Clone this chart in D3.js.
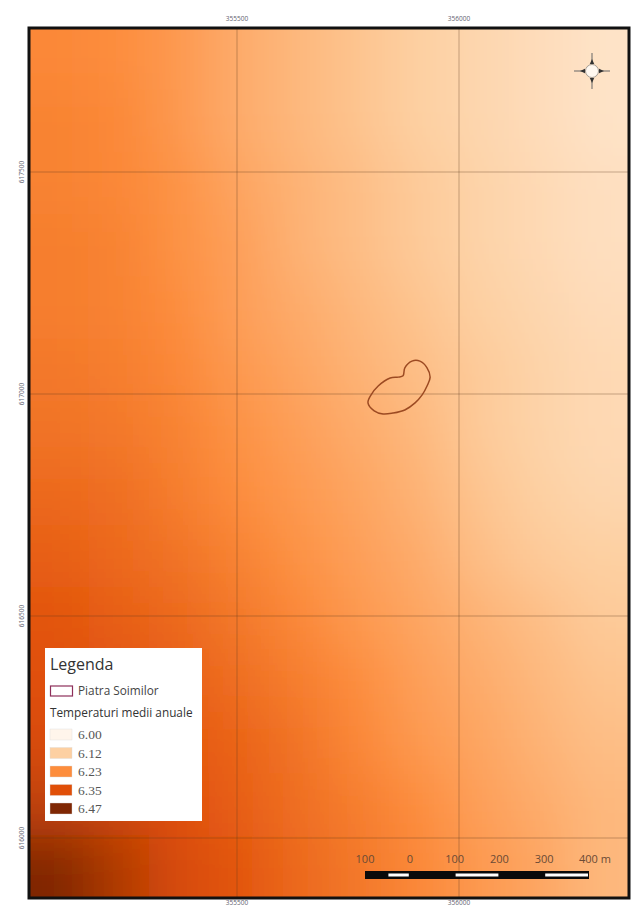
<!DOCTYPE html>
<html>
<head>
<meta charset="utf-8">
<script src="https://cdn.jsdelivr.net/npm/d3@7"></script>
<style>
  html, body { margin: 0; padding: 0; background: #fff; }
  svg { display: block; }
</style>
</head>
<body>
<div class="mapchart"></div>
<script>
// legend classes
const legendValues = [6.00, 6.12, 6.23, 6.35, 6.47];
const legendLabels = ["6.00", "6.12", "6.23", "6.35", "6.47"];
const legendColors = ["#fff5eb", "#fdd0a2", "#fd8d3c", "#e04f08", "#7f2704"];

// grid ticks of the map
const eastTicks = [355500, 356000];
const northTicks = [617500, 617000, 616500, 616000];
const scaleTicks = [-100, 0, 100, 200, 300, 400];
const scaleWhite = [[-50, 0], [100, 200], [300, 400]];

const row01 = [6.24, 6.23, 6.21, 6.18, 6.16, 6.14, 6.12, 6.10, 6.08, 6.06];
const row02 = [6.25, 6.24, 6.21, 6.18, 6.16, 6.14, 6.12, 6.10, 6.08, 6.06];
const row03 = [6.25, 6.24, 6.22, 6.19, 6.17, 6.15, 6.13, 6.11, 6.09, 6.07];
const row04 = [6.26, 6.25, 6.22, 6.20, 6.17, 6.15, 6.13, 6.11, 6.09, 6.07];
const row05 = [6.26, 6.25, 6.23, 6.20, 6.18, 6.16, 6.14, 6.12, 6.10, 6.08];
const row06 = [6.27, 6.26, 6.24, 6.21, 6.19, 6.17, 6.15, 6.13, 6.11, 6.09];
const row07 = [6.28, 6.27, 6.25, 6.22, 6.20, 6.18, 6.16, 6.13, 6.11, 6.09];
const row08 = [6.30, 6.29, 6.26, 6.23, 6.21, 6.19, 6.17, 6.14, 6.12, 6.10];
const row09 = [6.32, 6.30, 6.28, 6.25, 6.22, 6.20, 6.18, 6.15, 6.13, 6.12];
const row10 = [6.34, 6.32, 6.30, 6.27, 6.24, 6.21, 6.19, 6.17, 6.15, 6.13];
const row11 = [6.35, 6.34, 6.32, 6.29, 6.26, 6.23, 6.20, 6.18, 6.16, 6.14];
const row12 = [6.36, 6.35, 6.33, 6.31, 6.28, 6.24, 6.21, 6.19, 6.17, 6.15];
const row13 = [6.39, 6.37, 6.35, 6.32, 6.29, 6.26, 6.23, 6.20, 6.18, 6.16];
const row14 = [6.47, 6.41, 6.36, 6.34, 6.30, 6.27, 6.24, 6.21, 6.19, 6.16];
const rows = [row01, row02, row03, row04, row05, row06, row07, row08, row09, row10, row11, row12, row13, row14];

// Piatra Soimilor outline, map coordinates
const outlineE = [355874, 355878, 355894, 355912, 355928, 355935, 355928, 355917, 355901, 355878, 355851, 355829, 355809, 355795, 355802, 355818, 355845, 355863];
const outlineN = [617041, 617059, 617074, 617074, 617059, 617038, 617018, 616998, 616980, 616964, 616957, 616955, 616962, 616980, 616998, 617018, 617036, 617038];

const frame = {left: 29, top: 28, right: 629, bottom: 898};
const fontSans = "'Open Sans', sans-serif";
const edge = 120; // outer cells run on past the frame, the blur needs it

const svg = d3.select(".mapchart")
  .append("svg")
    .attr("width", 635)
    .attr("height", 906);

const defs = svg.append("defs");
defs.append("clipPath").attr("id", "frameclip")
  .append("rect")
    .attr("x", frame.left)
    .attr("y", frame.top)
    .attr("width", frame.right - frame.left)
    .attr("height", frame.bottom - frame.top);
defs.append("filter").attr("id", "smooth")
    .attr("filterUnits", "userSpaceOnUse")
    .attr("x", -200).attr("y", -200).attr("width", 1100).attr("height", 1300)
  .append("feGaussianBlur").attr("stdDeviation", 26);
defs.append("filter").attr("id", "soft")
  .append("feGaussianBlur").attr("stdDeviation", 0.6);

// map coordinates to page
const x = d3.scaleLinear().domain([355500, 356000]).range([237, 459]);
const y = d3.scaleLinear().domain([617000, 617500]).range([394, 172]);

const color = d3.scaleLinear().domain(legendValues).range(legendColors).clamp(true);

const col = d3.scaleBand().domain(d3.range(rows[0].length)).range([frame.left, frame.right]);
const row = d3.scaleBand().domain(d3.range(rows.length)).range([frame.top, frame.bottom]);
const lastCol = rows[0].length - 1;
const lastRow = rows.length - 1;

const raster = svg.append("g").attr("clip-path", "url(#frameclip)");
raster.append("g")
    .attr("filter", "url(#smooth)")
  .selectAll("g")
  .data(rows)
  .enter()
  .append("g")
    .attr("data-row", (d, i) => i)
  .selectAll("rect")
  .data((d, r) => d.map((v, c) => ({v: v, c: c, r: r})))
  .enter()
  .append("rect")
    .attr("x", d => col(d.c) - (d.c === 0 ? edge : 0))
    .attr("y", d => row(d.r) - (d.r === 0 ? edge : 0))
    .attr("width", d => col.bandwidth() + 1 + (d.c === 0 || d.c === lastCol ? edge : 0))
    .attr("height", d => row.bandwidth() + 1 + (d.r === 0 || d.r === lastRow ? edge : 0))
    .style("fill", d => color(d.v));

// grid lines
const grid = svg.append("g")
    .attr("clip-path", "url(#frameclip)")
    .attr("stroke", "#5a3a20")
    .attr("stroke-opacity", 0.45)
    .attr("stroke-width", 0.8);
grid.selectAll("line.e")
  .data(eastTicks)
  .enter()
  .append("line")
    .attr("class", "e")
    .attr("x1", d => x(d)).attr("x2", d => x(d))
    .attr("y1", frame.top).attr("y2", frame.bottom);
grid.selectAll("line.n")
  .data(northTicks)
  .enter()
  .append("line")
    .attr("class", "n")
    .attr("y1", d => y(d)).attr("y2", d => y(d))
    .attr("x1", frame.left).attr("x2", frame.right);

// outline of the site
const points = outlineE.map((e, i) => [x(e), y(outlineN[i])]);
svg.append("path")
    .attr("d", d3.line().curve(d3.curveCatmullRomClosed)(points))
    .attr("fill", "none")
    .attr("stroke", "#9c4a22")
    .attr("stroke-width", 1.5);

// frame
svg.append("rect")
    .attr("x", frame.left)
    .attr("y", frame.top)
    .attr("width", frame.right - frame.left)
    .attr("height", frame.bottom - frame.top)
    .attr("fill", "none")
    .attr("stroke", "#111")
    .attr("stroke-width", 3);

// coordinate labels
const coordStyle = sel => sel
    .attr("text-anchor", "middle")
    .attr("fill", "#5f6370")
    .style("font-family", fontSans)
    .style("font-size", "6.5px");
[21, 905].forEach(py => {
  svg.append("g").selectAll("text")
    .data(eastTicks)
    .enter()
    .append("text")
      .attr("x", d => x(d))
      .attr("y", py)
      .call(coordStyle)
      .text(d => d);
});
svg.append("g").selectAll("text")
  .data(northTicks)
  .enter()
  .append("text")
    .attr("transform", d => "translate(24," + y(d) + ") rotate(-90)")
    .call(coordStyle)
    .text(d => d);

// north arrow
const compass = svg.append("g")
    .attr("transform", "translate(592,71)")
    .attr("filter", "url(#soft)");
[0, 90, 180, 270].forEach(a => {
  const arm = compass.append("g").attr("transform", "rotate(" + a + ")");
  arm.append("line")
      .attr("y1", -8).attr("y2", -18)
      .attr("stroke", "#666").attr("stroke-width", 1);
  arm.append("path")
      .attr("d", "M-2.2,-7 L0,-12 L2.2,-7 Z")
      .attr("fill", "#333");
});
compass.append("circle")
    .attr("r", 6.5)
    .attr("fill", "#fff8f0")
    .attr("stroke", "#666")
    .attr("stroke-width", 0.6);

// legend
const legend = svg.append("g");
legend.append("rect")
    .attr("x", 45).attr("y", 648)
    .attr("width", 157).attr("height", 173)
    .attr("fill", "#fff");
legend.append("text")
    .attr("x", 50).attr("y", 670)
    .attr("fill", "#333")
    .style("font-family", fontSans)
    .style("font-size", "16px")
    .text("Legenda");
legend.append("rect")
    .attr("x", 50.5).attr("y", 686)
    .attr("width", 22).attr("height", 10)
    .attr("fill", "#fff")
    .attr("stroke", "#8e2f5a")
    .attr("stroke-width", 1.2);
legend.append("text")
    .attr("x", 78).attr("y", 695)
    .attr("fill", "#444")
    .style("font-family", fontSans)
    .style("font-size", "11.8px")
    .text("Piatra Soimilor");
legend.append("text")
    .attr("x", 50).attr("y", 717)
    .attr("fill", "#333")
    .style("font-family", fontSans)
    .style("font-size", "11.8px")
    .text("Temperaturi medii anuale");

const legendY = d3.scalePoint().domain(legendLabels).range([729, 803]);
const items = legend.selectAll("g.item")
  .data(legendLabels)
  .enter()
  .append("g")
    .attr("class", "item")
    .attr("transform", d => "translate(0," + legendY(d) + ")");
items.append("rect")
    .attr("x", 50).attr("width", 22).attr("height", 11)
    .style("fill", (d, i) => legendColors[i])
    .attr("stroke", "#ddd")
    .attr("stroke-width", 0.4);
items.append("text")
    .attr("x", 78).attr("y", 10)
    .attr("fill", "#555")
    .style("font-family", "'Liberation Serif', serif")
    .style("font-size", "13.5px")
    .text(d => d);

// scale bar
const sb = d3.scaleLinear().domain([-100, 400]).range([365, 589]);
svg.append("rect")
    .attr("x", sb(-100)).attr("y", 871)
    .attr("width", sb(400) - sb(-100)).attr("height", 8)
    .attr("fill", "#0a0a0a");
svg.append("g").selectAll("rect")
  .data(scaleWhite)
  .enter()
  .append("rect")
    .attr("x", d => sb(d[0]) + 1)
    .attr("y", 873.5)
    .attr("width", d => sb(d[1]) - sb(d[0]) - 2)
    .attr("height", 3)
    .attr("fill", "#fff");
svg.append("g").selectAll("text")
  .data(scaleTicks)
  .enter()
  .append("text")
    .attr("x", d => d === 400 ? sb(d) + 6 : sb(d))
    .attr("y", 863)
    .attr("text-anchor", "middle")
    .attr("fill", "#6a4a35")
    .style("font-family", fontSans)
    .style("font-size", "11px")
    .text(d => d === 400 ? "400 m" : Math.abs(d));
</script>
</body>
</html>
